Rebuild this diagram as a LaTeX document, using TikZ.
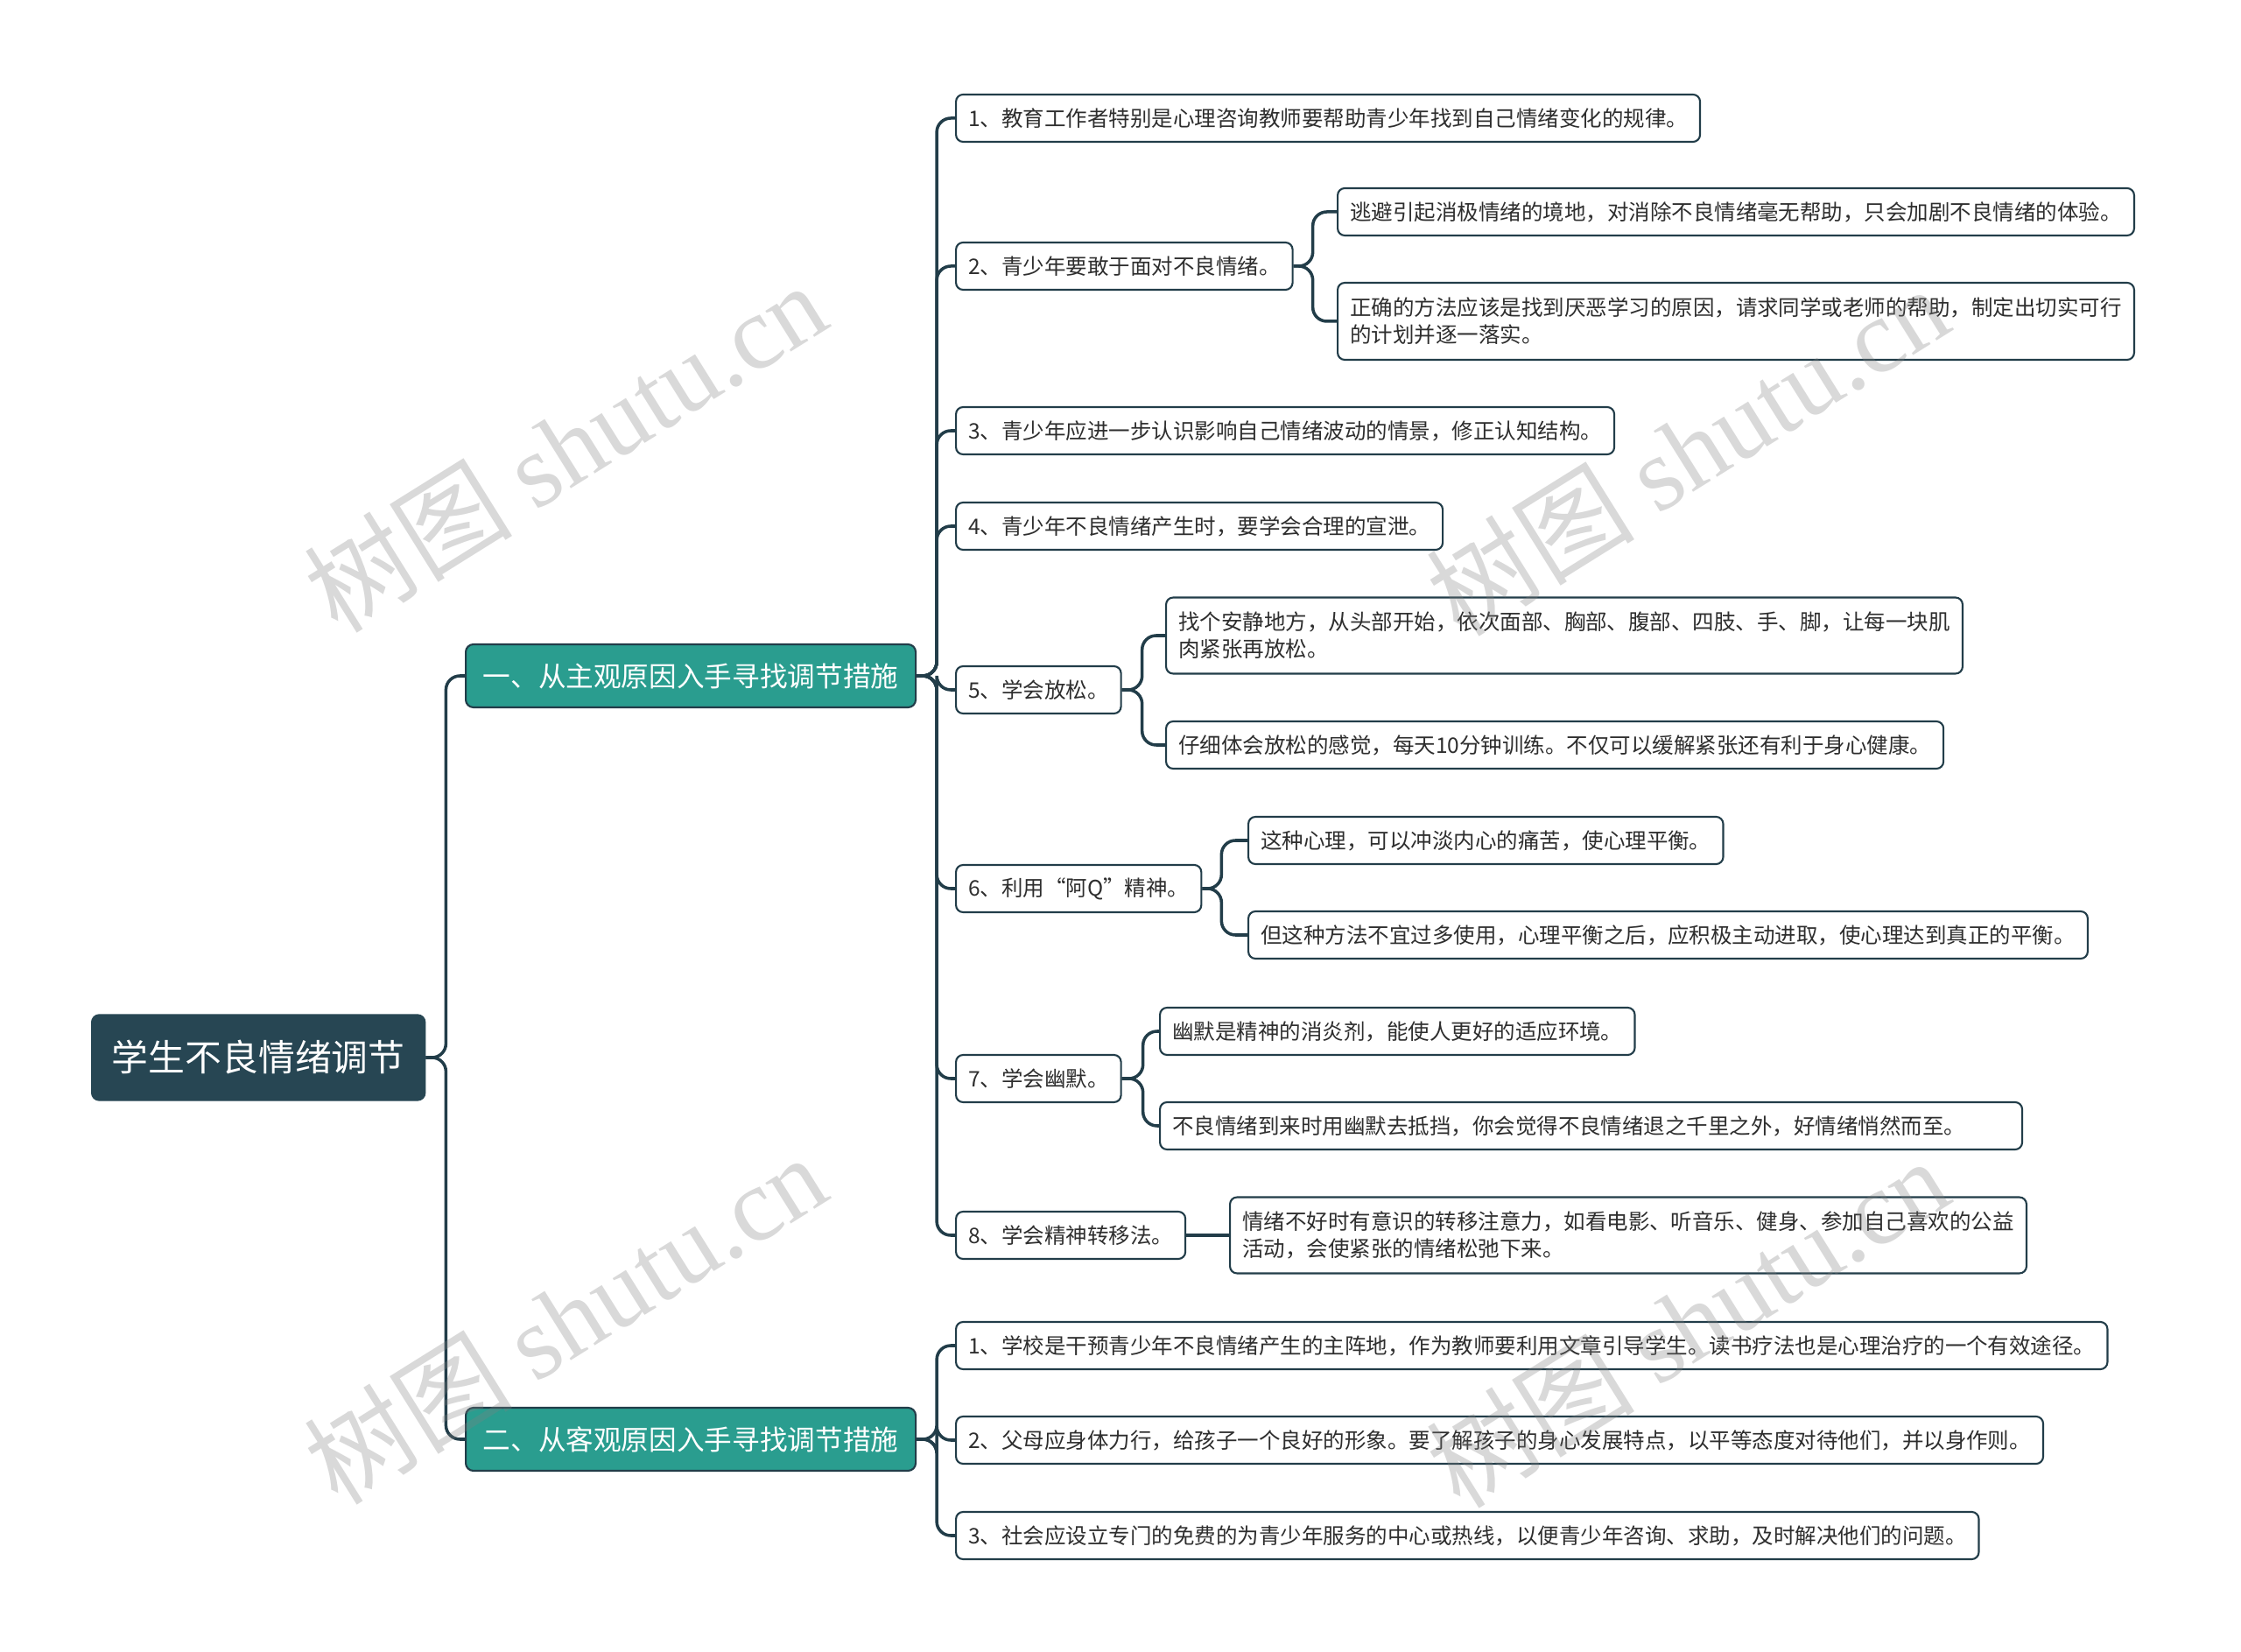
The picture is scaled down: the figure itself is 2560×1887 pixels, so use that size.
\documentclass[tikz,border=0pt]{standalone}
\usepackage{fontspec}
\setmainfont{Noto Sans CJK SC}
\newfontfamily\markfont{Liberation Serif}

\definecolor{rootfill}{HTML}{274653}
\definecolor{mainfill}{HTML}{2A9D8F}
\definecolor{linkcol}{HTML}{223D49}
\definecolor{textcol}{HTML}{2E2E2E}

\tikzset{
  rootbox/.style={draw=rootfill, fill=rootfill, text=white, rounded corners=2.5pt,
    font=\fontsize{11.9}{14}\selectfont, minimum width=38.1mm, minimum height=9.8mm,
    inner xsep=0pt, anchor=west},
  mainbox/.style={draw=linkcol, line width=0.6pt, fill=mainfill, text=white, rounded corners=2.5pt,
    font=\fontsize{9}{11}\selectfont, minimum width=51.4mm, minimum height=7.2mm,
    inner xsep=0pt, anchor=west},
  leafbox/.style={draw=linkcol, line width=0.6pt, fill=white, text=textcol, rounded corners=2.3pt,
    font=\fontsize{6.97}{8.8}\selectfont, minimum height=5.4mm, inner xsep=1.4mm,
    inner ysep=0pt, align=left, anchor=west},
  link/.style={draw=linkcol, line width=1pt, rounded corners=1.6mm},
  watermark/.style={text=gray, opacity=0.3, rotate=32, font=\fontsize{34}{34}\selectfont}
}

\begin{document}
\begin{tikzpicture}[x=0.1mm, y=-0.1mm]
  % Fix the page size
  \useasboundingbox (0,0) rectangle (2560,1887);

  % Draw the root and the two main branches
  \node[rootbox] (root) at (104,1208) {学生不良情绪调节};
  \node[mainbox] (subj) at (531,772) {一、从主观原因入手寻找调节措施};
  \node[mainbox] (obj) at (531,1644) {二、从客观原因入手寻找调节措施};

  % Draw the items of the first branch
  \node[leafbox] (s1) at (1091,135) {1、教育工作者特别是心理咨询教师要帮助青少年找到自己情绪变化的规律。};
  \node[leafbox] (s2) at (1091,304) {2、青少年要敢于面对不良情绪。};
  \node[leafbox] (s3) at (1091,492) {3、青少年应进一步认识影响自己情绪波动的情景，修正认知结构。};
  \node[leafbox] (s4) at (1091,601) {4、青少年不良情绪产生时，要学会合理的宣泄。};
  \node[leafbox] (s5) at (1091,788) {5、学会放松。};
  \node[leafbox] (s6) at (1091,1015) {6、利用“阿Q”精神。};
  \node[leafbox] (s7) at (1091,1232) {7、学会幽默。};
  \node[leafbox] (s8) at (1091,1411) {8、学会精神转移法。};

  % Draw the details under the items
  \node[leafbox] (s2a) at (1527,242) {逃避引起消极情绪的境地，对消除不良情绪毫无帮助，只会加剧不良情绪的体验。};
  \node[leafbox, minimum height=8.8mm] (s2b) at (1527,367) {正确的方法应该是找到厌恶学习的原因，请求同学或老师的帮助，制定出切实可行\\的计划并逐一落实。};
  \node[leafbox, minimum height=8.7mm] (s5a) at (1331,726) {找个安静地方，从头部开始，依次面部、胸部、腹部、四肢、手、脚，让每一块肌\\肉紧张再放松。};
  \node[leafbox] (s5b) at (1331,851) {仔细体会放松的感觉，每天10分钟训练。不仅可以缓解紧张还有利于身心健康。};
  \node[leafbox] (s6a) at (1425,960) {这种心理，可以冲淡内心的痛苦，使心理平衡。};
  \node[leafbox] (s6b) at (1425,1068) {但这种方法不宜过多使用，心理平衡之后，应积极主动进取，使心理达到真正的平衡。};
  \node[leafbox] (s7a) at (1324,1178) {幽默是精神的消炎剂，能使人更好的适应环境。};
  \node[leafbox, text width=95.7mm] (s7b) at (1324,1286) {不良情绪到来时用幽默去抵挡，你会觉得不良情绪退之千里之外，好情绪悄然而至。};
  \node[leafbox, minimum height=8.7mm] (s8a) at (1404,1411) {情绪不好时有意识的转移注意力，如看电影、听音乐、健身、参加自己喜欢的公益\\活动，会使紧张的情绪松弛下来。};

  % Draw the items of the second branch
  \node[leafbox] (o1) at (1091,1537) {1、学校是干预青少年不良情绪产生的主阵地，作为教师要利用文章引导学生。读书疗法也是心理治疗的一个有效途径。};
  \node[leafbox] (o2) at (1091,1645) {2、父母应身体力行，给孩子一个良好的形象。要了解孩子的身心发展特点，以平等态度对待他们，并以身作则。};
  \node[leafbox] (o3) at (1091,1754) {3、社会应设立专门的免费的为青少年服务的中心或热线，以便青少年咨询、求助，及时解决他们的问题。};

  % Connect the root to the branches
  \draw[link] (root.east) -- ++(23,0) |- (subj.west);
  \draw[link] (root.east) -- ++(23,0) |- (obj.west);

  % Connect the first branch to its items
  \draw[link] (subj.east) -- ++(23,0) |- (s1.west);
  \draw[link] (subj.east) -- ++(23,0) |- (s2.west);
  \draw[link] (subj.east) -- ++(23,0) |- (s3.west);
  \draw[link] (subj.east) -- ++(23,0) |- (s4.west);
  \draw[link] (subj.east) -- ++(23,0) |- (s5.west);
  \draw[link] (subj.east) -- ++(23,0) |- (s6.west);
  \draw[link] (subj.east) -- ++(23,0) |- (s7.west);
  \draw[link] (subj.east) -- ++(23,0) |- (s8.west);

  % Connect the items to their details
  \draw[link] (s2.east) -- ++(22,0) |- (s2a.west);
  \draw[link] (s2.east) -- ++(22,0) |- (s2b.west);
  \draw[link] (s5.east) -- ++(23,0) |- (s5a.west);
  \draw[link] (s5.east) -- ++(23,0) |- (s5b.west);
  \draw[link] (s6.east) -- ++(22,0) |- (s6a.west);
  \draw[link] (s6.east) -- ++(22,0) |- (s6b.west);
  \draw[link] (s7.east) -- ++(24,0) |- (s7a.west);
  \draw[link] (s7.east) -- ++(24,0) |- (s7b.west);
  \draw[link] (s8.east) -- (s8a.west);

  % Connect the second branch to its items
  \draw[link] (obj.east) -- ++(23,0) |- (o1.west);
  \draw[link] (obj.east) -- ++(23,0) |- (o2.west);
  \draw[link] (obj.east) -- ++(23,0) |- (o3.west);

  % Draw the watermarks
  \node[watermark] (wm1) at (645,510) {树图 {\markfont shutu.cn}};
  \node[watermark] (wm2) at (1927,514) {树图 {\markfont shutu.cn}};
  \node[watermark] (wm3) at (645,1506) {树图 {\markfont shutu.cn}};
  \node[watermark] (wm4) at (1927,1510) {树图 {\markfont shutu.cn}};
\end{tikzpicture}
\end{document}
